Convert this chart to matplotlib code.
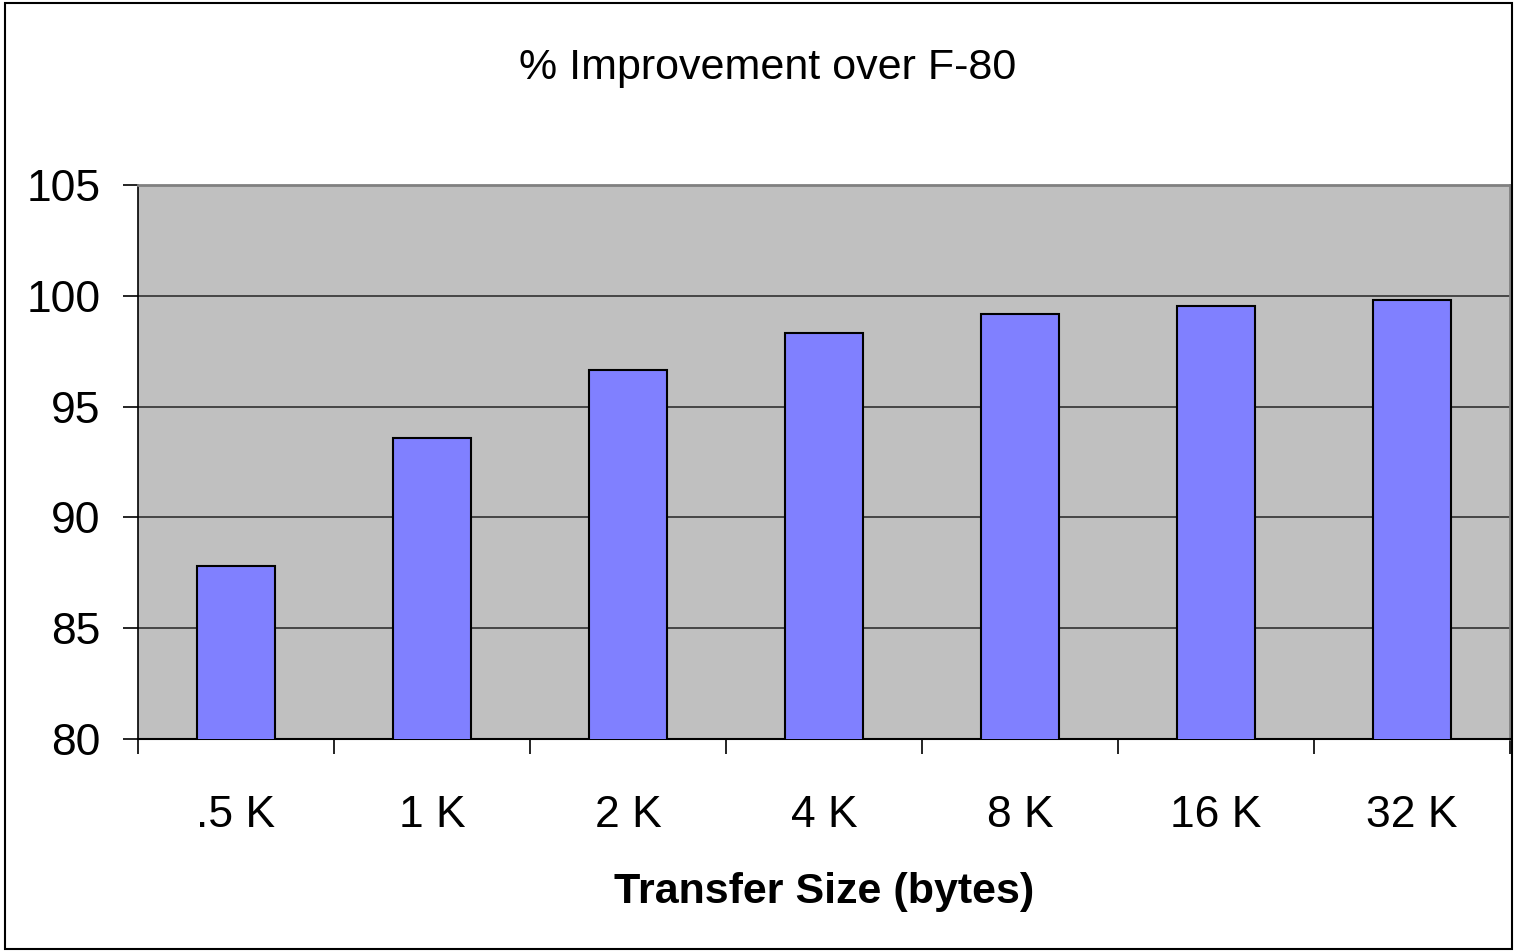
import matplotlib.pyplot as plt
from matplotlib.patches import Rectangle

sizes = ['.5 K', '1 K', '2 K', '4 K', '8 K', '16 K', '32 K']
improvement = [87.8, 93.6, 96.65, 98.3, 99.2, 99.55, 99.8]

plt.rcParams['font.family'] = 'Liberation Sans'

fig = plt.figure(figsize=(15.17, 9.52), dpi=100)
ax = fig.add_axes([138 / 1517, 1 - 739 / 952, (1510 - 138) / 1517, (739 - 185) / 952])
ax.set_facecolor('#C0C0C0')

x = list(range(len(sizes)))
ax.bar(x, improvement, width=0.4, color='#8080FF', edgecolor='black', linewidth=1.5, zorder=3)

ax.set_xlim(-0.5, len(sizes) - 0.5)
ax.set_ylim(80, 105)
ax.set_yticks([80, 85, 90, 95, 100, 105])
ax.yaxis.grid(True, color='#303030', linewidth=1.2, zorder=1)
ax.set_axisbelow(True)

# ticks at the category boundaries, labels at the centres
ax.set_xticks([i - 0.5 for i in range(len(sizes) + 1)])
ax.set_xticklabels([])
ax.set_xticks(x, minor=True)
ax.set_xticklabels(sizes, minor=True)
ax.tick_params(axis='x', which='major', direction='out', length=11, width=1.2)
ax.tick_params(axis='x', which='minor', length=0, pad=40, labelsize=32)
ax.tick_params(axis='y', direction='out', length=11, width=1.2, pad=16, labelsize=32)

ax.spines['top'].set_color('#808080')
ax.spines['right'].set_color('#808080')
ax.spines['top'].set_linewidth(2)
ax.spines['right'].set_linewidth(2)
ax.spines['left'].set_linewidth(1.2)
ax.spines['bottom'].set_linewidth(1.5)

ax.set_xlabel('Transfer Size (bytes)', fontsize=31, fontweight='bold', labelpad=26)
fig.text(0.506, 1 - 68 / 952, '% Improvement over F-80', fontsize=31, ha='center', va='center')

fig.patches.append(Rectangle((5 / 1517, 3 / 952), 1 - 10 / 1517, 1 - 6 / 952,
                             transform=fig.transFigure, fill=False, edgecolor='black', linewidth=1.5))

fig.savefig('out.png', dpi=100)
